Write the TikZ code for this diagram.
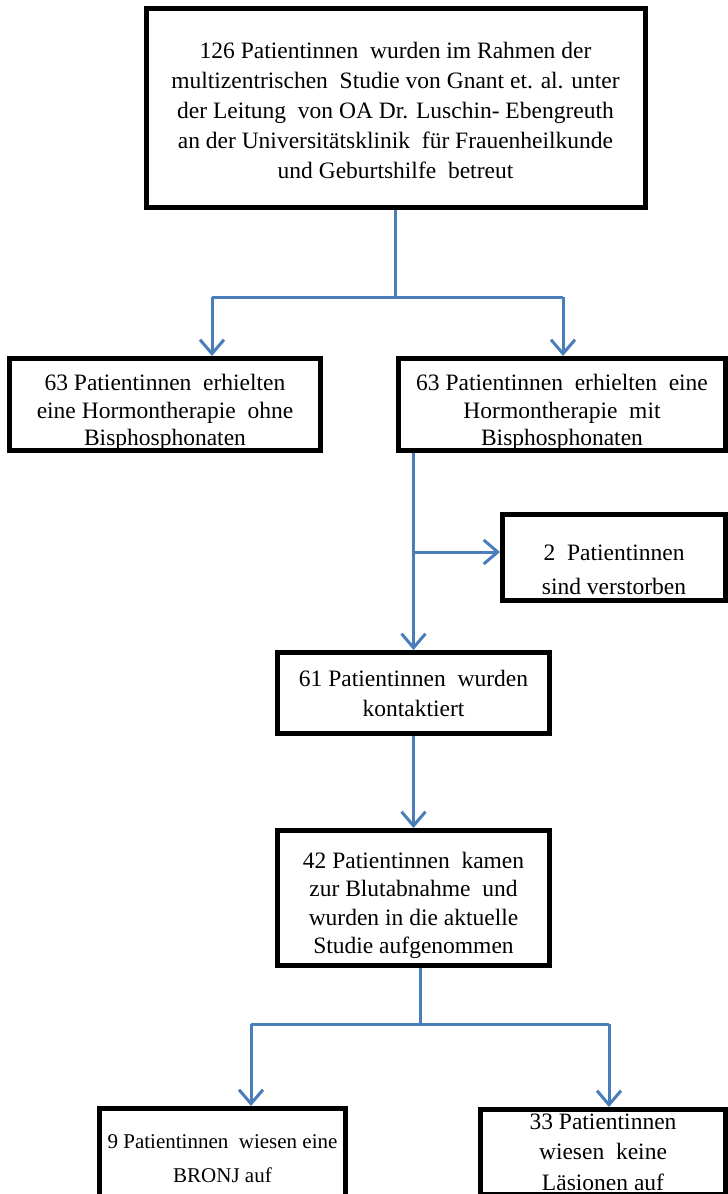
\documentclass[tikz,border=0pt]{standalone}
\usepackage{fontspec}
\setmainfont{Liberation Serif}
\usepackage{tikz}
\usetikzlibrary{arrows.meta}
\definecolor{flowblue}{RGB}{74,126,187}

\begin{document}
\begin{tikzpicture}[x=1pt,y=-1pt,
    box/.style={draw,line width=5pt,align=center,inner sep=0pt,
      font=\fontsize{23.5}{27.5}\selectfont},
    flow/.style={draw=flowblue,line width=3pt},
    flowarrow/.style={flow,-{Straight Barb[length=14pt,width=24pt]}}]
  \clip (0,0) rectangle (728,1194);

  % Draw boxes
  \node[box,minimum width=499pt,minimum height=199pt,font=\fontsize{23.5}{30}\selectfont] (start) at (395.5,107.5)
    {\rule{0pt}{22pt}126 Patientinnen\ \ wurden im Rahmen der\\
     multizentrischen\ \ Studie von Gnant et. al. unter\\
     der Leitung\ \ von OA Dr. Luschin-\ Ebengreuth\\
     an der Universitätsklinik\ \ für Frauenheilkunde\\
     und Geburtshilfe\ \ betreut};
  \node[box,minimum width=311pt,minimum height=88pt] (without) at (165,404.5)
    {\rule{0pt}{32pt}63 Patientinnen\ \ erhielten\\ eine Hormontherapie\ \ ohne\\ Bisphosphonaten};
  \node[box,minimum width=327pt,minimum height=88pt] (with) at (562,404.5)
    {\rule{0pt}{32pt}63 Patientinnen\ \ erhielten\ \ eine\\ Hormontherapie\ \ mit\\ Bisphosphonaten};
  \node[box,minimum width=223pt,minimum height=86pt,font=\fontsize{23.5}{34}\selectfont] (died) at (614,557.5)
    {\rule{0pt}{41pt}2\ \ Patientinnen\\ sind verstorben};
  \node[box,minimum width=272pt,minimum height=81pt,font=\fontsize{23.5}{30}\selectfont] (contacted) at (413.5,693)
    {61 Patientinnen\ \ wurden\\ kontaktiert};
  \node[box,minimum width=272pt,minimum height=135pt,font=\fontsize{23.5}{28.3}\selectfont] (included) at (413.5,898)
    {\rule{0pt}{31pt}42 Patientinnen\ \ kamen\\ zur Blutabnahme\ \ und\\ wurden in die aktuelle\\ Studie aufgenommen};
  \node[box,minimum width=246pt,minimum height=101pt,font=\fontsize{21}{34}\selectfont] (bronj) at (222.5,1159)
    {9 Patientinnen\ \ wiesen eine\\ BRONJ auf};
  \node[box,minimum width=245pt,minimum height=85pt,font=\fontsize{23.5}{30.5}\selectfont] (nolesion) at (603,1152)
    {33 Patientinnen\\ wiesen\ \ keine\\ Läsionen auf};

  % Branch points
  \coordinate (splitL) at (212,297);
  \coordinate (splitR) at (563,297);
  \coordinate (deathbranch) at (413,552);
  \coordinate (fork) at (420,1024);
  \coordinate (forkL) at (251,1024);
  \coordinate (forkR) at (609,1024);

  % Connect boxes with arrows
  \draw[flow] (start.south) -- (start.south |- splitL);
  \draw[flow] (splitL) -- (splitR);
  \draw[flowarrow] (splitL) -- (splitL |- without.north);
  \draw[flowarrow] (splitR) -- (splitR |- with.north);
  \draw[flowarrow] (contacted.north |- with.south) -- (contacted.north);
  \draw[flowarrow] (deathbranch) -- (deathbranch -| died.west);
  \draw[flowarrow] (contacted.south) -- (included.north);
  \draw[flow] (fork |- included.south) -- (fork);
  \draw[flow] (forkL) -- (forkR);
  \draw[flowarrow] (forkL) -- (forkL |- bronj.north);
  \draw[flowarrow] (forkR) -- (forkR |- nolesion.north);
\end{tikzpicture}
\end{document}
